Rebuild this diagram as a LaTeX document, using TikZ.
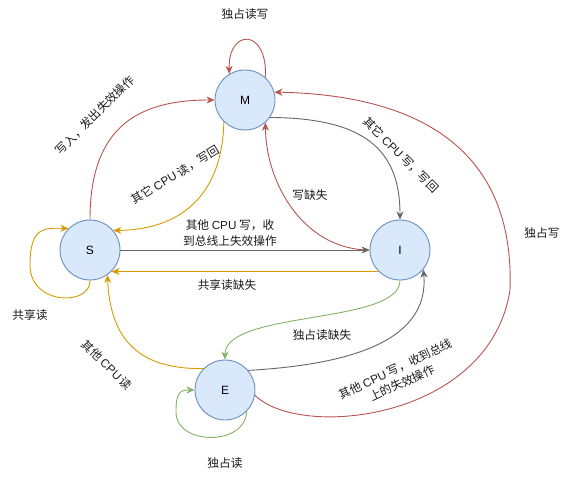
\documentclass[tikz,border=0pt]{standalone}
\usepackage{fontspec}
\setmainfont{Noto Sans CJK SC}
\newfontfamily\latinfont{Liberation Sans}
\usepackage{tikz}
\usetikzlibrary{positioning,arrows.meta}
\usepackage{xcolor}
\definecolor{edgered}{HTML}{B85450}
\definecolor{edgeorange}{HTML}{D79B00}
\definecolor{edgegray}{HTML}{666666}
\definecolor{edgegreen}{HTML}{82B366}
\definecolor{statefill}{HTML}{DAE8FC}
\definecolor{stateline}{HTML}{6C8EBF}
\definecolor{labeltext}{HTML}{1A1A1A}
\newcommand{\cpuname}{{\latinfont CPU}}

\begin{document}
\begin{tikzpicture}[x=1pt,y=-1pt,
    state/.style={circle,draw=stateline,fill=statefill,line width=0.9pt,
      minimum size=60pt,inner sep=0pt,font=\latinfont\fontsize{12}{14}\selectfont},
    lbl/.style={text=labeltext,font=\fontsize{11.7}{15.5}\selectfont,
      inner sep=1pt,align=center},
    trans/.style={line width=0.9pt,
      -{Stealth[length=8pt,width=7pt,inset=2.5pt]}},
    redtr/.style={trans,draw=edgered,color=edgered},
    orangetr/.style={trans,draw=edgeorange,color=edgeorange},
    graytr/.style={trans,draw=edgegray,color=edgegray},
    greentr/.style={trans,draw=edgegreen,color=edgegreen}]
  \useasboundingbox (0,0) rectangle (588,481);

  % states
  \node[state] (M) at (245,100) {M};
  \node[state] (S) at (90,250) {S};
  \node[state] (I) at (400,250) {I};
  \node[state] (E) at (225,390) {E};

  % M
  \draw[redtr] (M.48) .. controls (268,28) and (228,28) .. (M.121);
  \draw[redtr] (S.north) .. controls (90,125) and (140,100) .. (M.west);
  \draw[orangetr] (M.226) .. controls (222,205) and (170,230) .. (S.40);
  \draw[graytr] (M.-35) .. controls (365,118) and (400,150) .. (I.north);
  \draw[redtr] (I.west) .. controls (305,250) and (266,185) .. (M.-48);

  % S and I
  \draw[graytr] (S.east) -- (I.west);
  \draw[orangetr] (I.225) -- (S.-45);
  \draw[orangetr] (S.south) .. controls (91,306) and (30,306) .. (30,265)
    .. controls (30,226) and (45,228) .. (S.135);

  % E
  \draw[orangetr] (E.135) .. controls (135,370) and (110,335) .. (S.-55);
  \draw[greentr] (E.-45) .. controls (246,446) and (176,446) .. (176,412)
    .. controls (176,392) and (180,390) .. (E.west);
  \draw[greentr] (I.south) .. controls (400,325) and (225,310) .. (E.north);
  \draw[graytr] (E.40) .. controls (340,365) and (430,345) .. (I.-40);
  \draw[redtr] (E.-10) .. controls (300,440) and (490,420) .. (510,290)
    .. controls (515,150) and (420,95) .. (M.15);

  % labels
  \node[lbl] (lMM) at (245,14) {独占读写};
  \node[lbl,rotate=45] (lSM) at (95,115) {写入，发出失效操作};
  \node[lbl,rotate=31] (lMS) at (175,175) {其它 \cpuname{} 读，写回};
  \node[lbl,rotate=-45] (lMI) at (401,155) {其它 \cpuname{} 写，写回};
  \node[lbl] (lIM) at (310,195) {写缺失};
  \node[lbl] (lSI) at (230,233) {其他 \cpuname{} 写，收\\到总线上失效操作};
  \node[lbl] (lIS) at (227,285) {共享读缺失};
  \node[lbl] (lSS) at (30,315) {共享读};
  \node[lbl,rotate=-45] (lES) at (107,365) {其他 \cpuname{} 读};
  \node[lbl] (lEE) at (225,463) {独占读};
  \node[lbl] (lIE) at (322,335) {独占读缺失};
  \node[lbl,rotate=25] (lEI) at (399,376) {其他 \cpuname{} 写，收到总线\\上的失效操作};
  \node[lbl] (lEM) at (542,233) {独占写};
\end{tikzpicture}
\end{document}
